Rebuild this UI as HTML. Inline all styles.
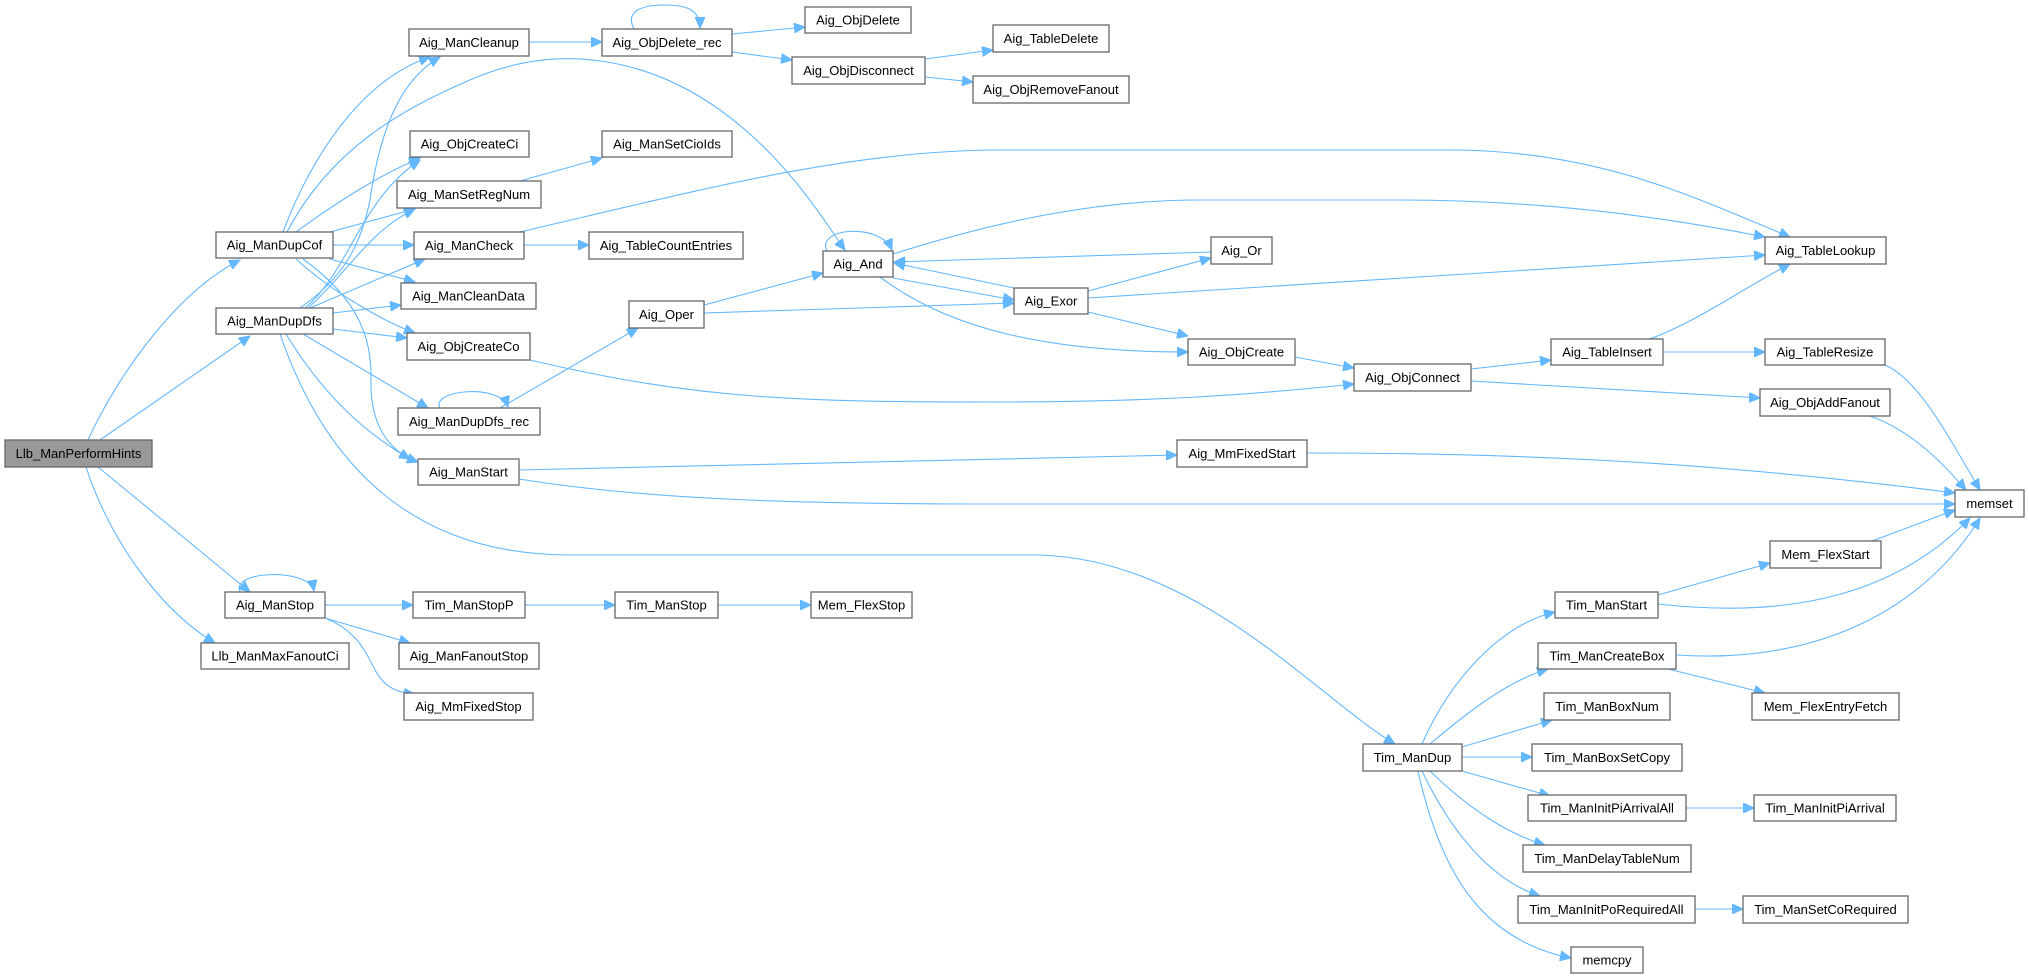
<!DOCTYPE html>
<html><head><meta charset="utf-8"><style>
html,body{margin:0;padding:0;background:#fff;}
svg{display:block;}
text{font-family:"Liberation Sans",Arial,sans-serif;font-size:13px;fill:#000;text-anchor:middle;}
.e{fill:none;stroke:#63b8ff;stroke-width:1.1;marker-end:url(#a);}
rect{fill:#fff;stroke:#666;stroke-width:1.3;}
</style></head><body>
<svg width="2029" height="979" viewBox="0 0 2029 979" xmlns="http://www.w3.org/2000/svg">
<defs><marker id="a" markerUnits="userSpaceOnUse" markerWidth="12" markerHeight="10" refX="11" refY="5" orient="auto"><path d="M0,0 L11,5 L0,10 Z" fill="#63b8ff" stroke="#63b8ff"/></marker></defs>
<g>
<path class="e" d="M88,440 C120,370 180,290 240,260"/>
<path class="e" d="M100,440 L250,336"/>
<path class="e" d="M98,467 L250,592"/>
<path class="e" d="M86,467 C110,540 160,610 215,643"/>
<path class="e" d="M283,232 C310,160 360,80 430,57"/>
<path class="e" d="M287,232 C330,150 400,110 470,80 C560,40 650,60 720,110 C790,160 830,230 845,250"/>
<path class="e" d="M296,232 C340,200 380,175 420,158"/>
<path class="e" d="M330,232 L415,209"/>
<path class="e" d="M333,245 L414,245"/>
<path class="e" d="M330,259 L415,282"/>
<path class="e" d="M296,259 C330,290 380,320 415,333"/>
<path class="e" d="M303,259 C360,300 372,340 371,380 C370,420 385,450 418,462"/>
<path class="e" d="M300,308 C340,280 360,250 370,200 C380,130 400,80 440,57"/>
<path class="e" d="M305,308 C350,270 360,200 420,160"/>
<path class="e" d="M308,308 C350,270 370,230 415,209"/>
<path class="e" d="M310,308 L425,259"/>
<path class="e" d="M333,313 L401,305"/>
<path class="e" d="M333,329 L407,338"/>
<path class="e" d="M303,334 L428,408"/>
<path class="e" d="M286,334 C320,390 360,430 410,459"/>
<path class="e" d="M280,334 C320,450 400,555 570,555 L1040,555 C1200,560 1320,700 1395,744"/>
<path class="e" d="M529,42 L602,42"/>
<path class="e" d="M634,29 C625,12 640,5 665,5 C690,5 700,12 700,28"/>
<path class="e" d="M732,34 L805,27"/>
<path class="e" d="M732,52 L792,60"/>
<path class="e" d="M925,59 L993,50"/>
<path class="e" d="M925,77 L973,82"/>
<path class="e" d="M520,181 L602,158"/>
<path class="e" d="M524,245 L589,245"/>
<path class="e" d="M520,232 C700,190 850,150 1000,150 L1450,150 C1600,150 1700,200 1790,237"/>
<path class="e" d="M440,408 C430,390 500,383 508,407"/>
<path class="e" d="M500,408 L638,328"/>
<path class="e" d="M530,360 C700,400 800,402 1000,402 C1150,402 1250,395 1354,384"/>
<path class="e" d="M519,470 L1177,455"/>
<path class="e" d="M519,479 C650,500 800,504 1000,504 L1955,504"/>
<path class="e" d="M1307,453 C1500,453 1700,460 1955,493"/>
<path class="e" d="M704,305 L823,273"/>
<path class="e" d="M704,313 L1014,303"/>
<path class="e" d="M827,251 C815,228 880,222 892,250"/>
<path class="e" d="M893,278 L1014,300"/>
<path class="e" d="M1014,288 L894,263"/>
<path class="e" d="M1211,252 L894,262"/>
<path class="e" d="M893,254 C1000,220 1100,200 1200,200 L1400,200 C1550,200 1680,220 1765,237"/>
<path class="e" d="M880,277 C950,330 1050,352 1188,352"/>
<path class="e" d="M1088,291 L1211,258"/>
<path class="e" d="M1088,298 L1765,255"/>
<path class="e" d="M1088,312 L1188,336"/>
<path class="e" d="M1295,357 L1354,368"/>
<path class="e" d="M1471,369 L1551,360"/>
<path class="e" d="M1471,381 L1760,398"/>
<path class="e" d="M1650,339 C1700,320 1740,290 1790,264"/>
<path class="e" d="M1663,352 L1765,352"/>
<path class="e" d="M1885,365 C1920,380 1950,440 1980,490"/>
<path class="e" d="M1870,416 C1910,430 1940,460 1966,490"/>
<path class="e" d="M240,592 C230,570 310,568 314,591"/>
<path class="e" d="M325,605 L413,605"/>
<path class="e" d="M325,618 L410,643"/>
<path class="e" d="M327,619 C355,630 365,650 375,670 C385,688 398,693 415,694"/>
<path class="e" d="M525,605 L615,605"/>
<path class="e" d="M718,605 L811,605"/>
<path class="e" d="M1422,744 C1450,680 1500,625 1555,612"/>
<path class="e" d="M1430,744 C1470,710 1510,680 1548,669"/>
<path class="e" d="M1462,747 L1552,720"/>
<path class="e" d="M1462,757 L1532,757"/>
<path class="e" d="M1462,771 L1550,796"/>
<path class="e" d="M1430,771 C1470,810 1510,835 1545,845"/>
<path class="e" d="M1422,771 C1450,830 1490,880 1540,896"/>
<path class="e" d="M1418,771 C1440,870 1480,940 1571,958"/>
<path class="e" d="M1658,595 L1770,563"/>
<path class="e" d="M1658,604 C1800,620 1900,590 1970,518"/>
<path class="e" d="M1676,655 C1830,665 1930,600 1980,518"/>
<path class="e" d="M1668,669 L1765,693"/>
<path class="e" d="M1872,541 L1955,510"/>
<path class="e" d="M1686,808 L1754,808"/>
<path class="e" d="M1695,909 L1743,909"/>
</g>
<g>
<rect x="5" y="440" width="147" height="27" style="fill:#999"/><text x="78.5" y="458">Llb_ManPerformHints</text>
<rect x="216" y="232" width="117" height="26"/><text x="274.5" y="249.5">Aig_ManDupCof</text>
<rect x="216" y="308" width="117" height="26"/><text x="274.5" y="325.5">Aig_ManDupDfs</text>
<rect x="225" y="592" width="100" height="26"/><text x="275" y="609.5">Aig_ManStop</text>
<rect x="201" y="643" width="148" height="26"/><text x="275" y="660.5">Llb_ManMaxFanoutCi</text>
<rect x="409" y="29" width="120" height="27"/><text x="469" y="47">Aig_ManCleanup</text>
<rect x="410" y="131" width="119" height="26"/><text x="469.5" y="148.5">Aig_ObjCreateCi</text>
<rect x="397" y="181" width="144" height="27"/><text x="469" y="199">Aig_ManSetRegNum</text>
<rect x="414" y="232" width="110" height="27"/><text x="469" y="250">Aig_ManCheck</text>
<rect x="401" y="283" width="135" height="26"/><text x="468.5" y="300.5">Aig_ManCleanData</text>
<rect x="407" y="333" width="123" height="27"/><text x="468.5" y="351">Aig_ObjCreateCo</text>
<rect x="398" y="408" width="142" height="27"/><text x="469" y="426">Aig_ManDupDfs_rec</text>
<rect x="418" y="459" width="101" height="26"/><text x="468.5" y="476.5">Aig_ManStart</text>
<rect x="413" y="592" width="112" height="26"/><text x="469" y="609.5">Tim_ManStopP</text>
<rect x="399" y="643" width="140" height="26"/><text x="469" y="660.5">Aig_ManFanoutStop</text>
<rect x="404" y="693" width="129" height="27"/><text x="468.5" y="711">Aig_MmFixedStop</text>
<rect x="615" y="592" width="103" height="26"/><text x="666.5" y="609.5">Tim_ManStop</text>
<rect x="811" y="592" width="101" height="26"/><text x="861.5" y="609.5">Mem_FlexStop</text>
<rect x="602" y="29" width="130" height="27"/><text x="667" y="47">Aig_ObjDelete_rec</text>
<rect x="805" y="7" width="106" height="26"/><text x="858" y="24.5">Aig_ObjDelete</text>
<rect x="792" y="57" width="133" height="27"/><text x="858.5" y="75">Aig_ObjDisconnect</text>
<rect x="993" y="25" width="116" height="27"/><text x="1051" y="43">Aig_TableDelete</text>
<rect x="973" y="76" width="156" height="27"/><text x="1051" y="94">Aig_ObjRemoveFanout</text>
<rect x="602" y="131" width="130" height="26"/><text x="667" y="148.5">Aig_ManSetCioIds</text>
<rect x="589" y="232" width="154" height="27"/><text x="666" y="250">Aig_TableCountEntries</text>
<rect x="823" y="251" width="70" height="26"/><text x="858" y="268.5">Aig_And</text>
<rect x="629" y="301" width="75" height="27"/><text x="666.5" y="319">Aig_Oper</text>
<rect x="1014" y="288" width="74" height="26"/><text x="1051" y="305.5">Aig_Exor</text>
<rect x="1211" y="237" width="61" height="27"/><text x="1241.5" y="255">Aig_Or</text>
<rect x="1188" y="339" width="107" height="26"/><text x="1241.5" y="356.5">Aig_ObjCreate</text>
<rect x="1177" y="440" width="130" height="27"/><text x="1242" y="458">Aig_MmFixedStart</text>
<rect x="1765" y="237" width="121" height="27"/><text x="1825.5" y="255">Aig_TableLookup</text>
<rect x="1551" y="339" width="112" height="26"/><text x="1607" y="356.5">Aig_TableInsert</text>
<rect x="1765" y="339" width="120" height="26"/><text x="1825" y="356.5">Aig_TableResize</text>
<rect x="1354" y="364" width="117" height="27"/><text x="1412.5" y="382">Aig_ObjConnect</text>
<rect x="1760" y="389" width="130" height="27"/><text x="1825" y="407">Aig_ObjAddFanout</text>
<rect x="1955" y="490" width="69" height="27"/><text x="1989.5" y="508">memset</text>
<rect x="1770" y="541" width="111" height="27"/><text x="1825.5" y="559">Mem_FlexStart</text>
<rect x="1555" y="592" width="103" height="26"/><text x="1606.5" y="609.5">Tim_ManStart</text>
<rect x="1538" y="643" width="138" height="26"/><text x="1607" y="660.5">Tim_ManCreateBox</text>
<rect x="1752" y="693" width="147" height="27"/><text x="1825.5" y="711">Mem_FlexEntryFetch</text>
<rect x="1544" y="693" width="126" height="27"/><text x="1607" y="711">Tim_ManBoxNum</text>
<rect x="1363" y="744" width="99" height="27"/><text x="1412.5" y="762">Tim_ManDup</text>
<rect x="1532" y="744" width="150" height="27"/><text x="1607" y="762">Tim_ManBoxSetCopy</text>
<rect x="1528" y="795" width="158" height="26"/><text x="1607" y="812.5">Tim_ManInitPiArrivalAll</text>
<rect x="1754" y="795" width="142" height="26"/><text x="1825" y="812.5">Tim_ManInitPiArrival</text>
<rect x="1523" y="845" width="168" height="27"/><text x="1607" y="863">Tim_ManDelayTableNum</text>
<rect x="1518" y="896" width="177" height="27"/><text x="1606.5" y="914">Tim_ManInitPoRequiredAll</text>
<rect x="1743" y="896" width="165" height="27"/><text x="1825.5" y="914">Tim_ManSetCoRequired</text>
<rect x="1571" y="947" width="72" height="26"/><text x="1607" y="964.5">memcpy</text>
</g>
</svg>
</body></html>
